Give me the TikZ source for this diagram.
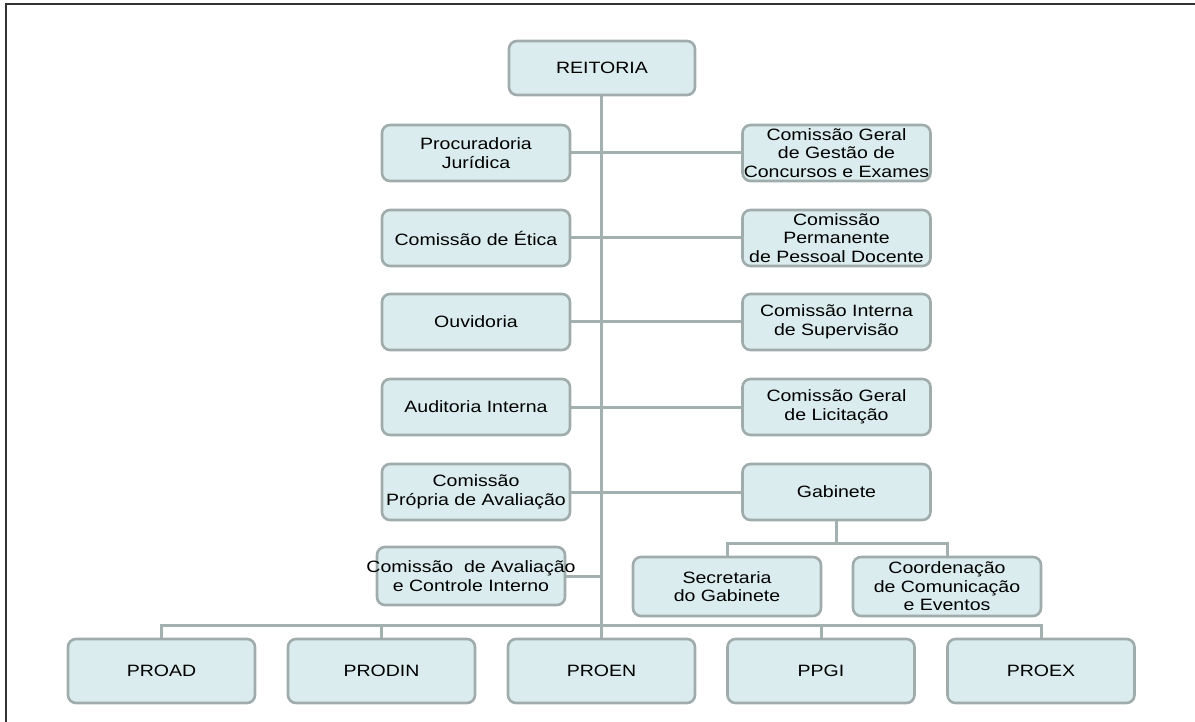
\documentclass[tikz,border=0pt]{standalone}
\usepackage{fontspec}
\setmainfont[FakeStretch=1.19]{Liberation Sans}
\definecolor{boxfill}{RGB}{218,236,238}
\definecolor{boxline}{RGB}{160,172,172}
\definecolor{wire}{RGB}{163,176,176}
\begin{document}
\begin{tikzpicture}[x=1pt,y=-1pt,
  unit/.style={draw=boxline, fill=boxfill, line width=2.6pt, rounded corners=8pt,
    align=center, inner sep=0pt, minimum width=188pt, minimum height=56pt,
    font=\fontsize{16.4}{18.6}\selectfont},
  link/.style={draw=wire, line width=3pt}]
\useasboundingbox (0,0) rectangle (1195,722);
\draw[line width=1.5pt, black!80] (6,722) -- (6,4) -- (1195,4);

% top
\node[unit, minimum width=186pt, minimum height=54pt] (reit) at (602,68) {REITORIA};

% staff units, left column
\node[unit] (pj)  at (476,153) {Procuradoria\\Jurídica};
\node[unit] (cet) at (476,238) {Comissão de Ética};
\node[unit] (ouv) at (476,322) {Ouvidoria};
\node[unit] (aud) at (476,407) {Auditoria Interna};
\node[unit] (cpa) at (476,492) {Comissão\\Própria de Avaliação};
\node[unit, minimum height=58pt, inner xsep=-14pt] (cai) at (471,576) {Comissão\ \ de Avaliação\\e Controle Interno};

% staff units, right column
\node[unit, inner xsep=-4pt] (cgg) at (836.5,153) {Comissão Geral\\de Gestão de\\Concursos e Exames};
\node[unit, inner xsep=-4pt] (cpp) at (836.5,238) {Comissão\\Permanente\\de Pessoal Docente};
\node[unit] (cis) at (836.5,322) {Comissão Interna\\de Supervisão};
\node[unit] (cgl) at (836.5,407) {Comissão Geral\\de Licitação};
\node[unit] (gab) at (836.5,492) {Gabinete};
\node[unit, minimum height=59pt] (sec) at (727,586.5) {Secretaria\\do Gabinete};
\node[unit, minimum height=59pt] (com) at (947,586.5) {Coordenação\\de Comunicação\\e Eventos};

% pro-rectorates
\node[unit, minimum width=187pt, minimum height=64pt] (proad)  at (161.5,671) {PROAD};
\node[unit, minimum width=187pt, minimum height=64pt] (prodin) at (381.5,671) {PRODIN};
\node[unit, minimum width=187pt, minimum height=64pt] (proen)  at (601.5,671) {PROEN};
\node[unit, minimum width=187pt, minimum height=64pt] (ppgi)   at (821,671)   {PPGI};
\node[unit, minimum width=187pt, minimum height=64pt] (proex)  at (1041,671)  {PROEX};

% connectors
\coordinate (bus) at (601,625);
\coordinate (gj) at (836.5,543);
\draw[link] (reit.south -| bus) -- (bus |- proen.north);
\draw[link] (pj.east) -- (cgg.west);
\draw[link] (cet.east) -- (cpp.west);
\draw[link] (ouv.east) -- (cis.west);
\draw[link] (aud.east) -- (cgl.west);
\draw[link] (cpa.east) -- (gab.west);
\draw[link] (cai.east) -- (cai.east -| bus);
\draw[link] (gab.south) -- (gj);
\draw[link] (sec.north) |- (gj) -| (com.north);
\draw[link] (proad.north) |- (bus) -| (proex.north);
\draw[link] (prodin.north) -- (prodin.north |- bus);
\draw[link] (ppgi.north) -- (ppgi.north |- bus);
\end{tikzpicture}
\end{document}
